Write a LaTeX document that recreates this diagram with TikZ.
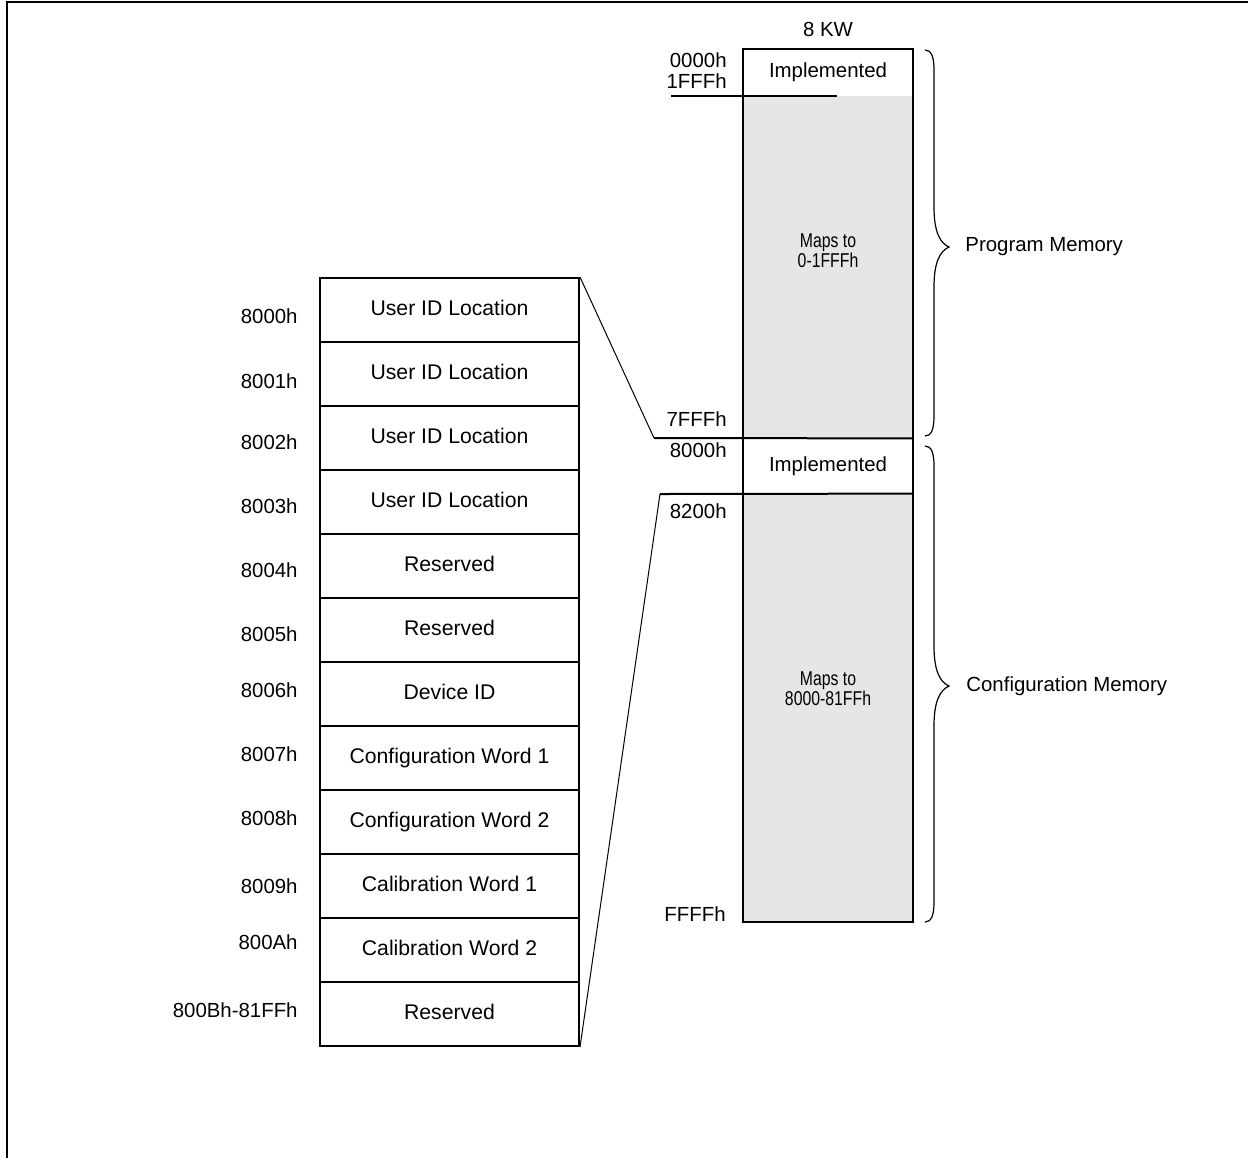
\documentclass[tikz,border=0pt]{standalone}
\usepackage{fontspec}
\setmainfont{Liberation Sans}
\newfontfamily\narrowfont[FakeStretch=0.79]{Liberation Sans}
\definecolor{memgray}{RGB}{230,230,230}
\begin{document}
\begin{tikzpicture}[x=0.5pt,y=-0.5pt,
  every node/.style={font=\fontsize{10.2}{12.2}\selectfont},
  box/.style={draw, line width=1pt},
  cell/.style={box, minimum width=129.5pt, minimum height=32pt, inner sep=0pt, font=\fontsize{10.6}{12.6}\selectfont},
  area/.style={minimum width=85pt, inner sep=0pt},
  addr/.style={inner sep=0pt, anchor=east},
  maptext/.style={inner sep=0pt, align=center, font=\narrowfont\fontsize{10}{10}\selectfont},
  thin/.style={line width=0.5pt},
  bracestyle/.style={line width=0.6pt},
  frame/.style={line width=1.3pt}]
\useasboundingbox (0,0) rectangle (1251,1158);
\draw[frame] (7,1158) -- (7,2) -- (1248,2);

% left table
\foreach \i/\txt/\ad/\ay in {
  1/User ID Location/8000h/316,
  2/User ID Location/8001h/381,
  3/User ID Location/8002h/442,
  4/User ID Location/8003h/506,
  5/Reserved/8004h/570,
  6/Reserved/8005h/634,
  7/Device ID/8006h/690,
  8/Configuration Word 1/8007h/754,
  9/Configuration Word 2/8008h/818,
  10/Calibration Word 1/8009h/886,
  11/Calibration Word 2/800Ah/942,
  12/Reserved/800Bh-81FFh/1010}{
  \node[cell] (r\i) at (449.5, 246+64*\i) {\raisebox{2.5pt}{\txt}};
  \node[addr] (l\i) at (298, \ay) {\ad};
}

% right column
\node[area, minimum height=23.5pt] (impl1) at (828,72.5) {Implemented};
\node[area, fill=memgray, minimum height=171pt] (map1) at (828,267) {};
\node[area, minimum height=28pt] (impl2) at (828,466) {Implemented};
\node[area, fill=memgray, minimum height=214pt] (map2) at (828,708) {};
\draw[box] (impl1.north west) rectangle (map2.south east);
\node[maptext] (m1) at (828,251) {Maps to\\0-1FFFh};
\node[maptext] (m2) at (828,689) {Maps to\\8000-81FFh};
\node[inner sep=0pt] (kw) at (828,29) {8 KW};

\coordinate (a1) at (671,96);
\coordinate (a2) at (837,96);
\coordinate (k1) at (654,438);
\coordinate (k2) at (660,494);
\draw[box] (a1) -- (a2);
\draw[box] (k1) -- (map1.south east);
\draw[box] (k2) -- (map2.north east);
\draw[thin] (r1.north east) -- (k1);
\draw[thin] (r12.south east) -- (k2);

\node[addr] (t0) at (727,60) {0000h};
\node[addr] (t1) at (727,81) {1FFFh};
\node[addr] (t2) at (727,419) {7FFFh};
\node[addr] (t3) at (727,450) {8000h};
\node[addr] (t4) at (727,511) {8200h};
\node[addr] (t5) at (726,914) {FFFFh};

% braces
\draw[bracestyle] (925,50) .. controls (931,50) and (934,56) .. (934,70)
  -- (934,207) .. controls (934,232) and (940,243) .. (949,247)
  .. controls (940,251) and (934,262) .. (934,287)
  -- (934,416) .. controls (934,430) and (931,436) .. (925,436);
\draw[bracestyle] (925,446) .. controls (931,446) and (934,452) .. (934,466)
  -- (934,646) .. controls (934,671) and (940,682) .. (949,686)
  .. controls (940,690) and (934,701) .. (934,726)
  -- (934,902) .. controls (934,916) and (931,922) .. (925,922);
\node[inner sep=0pt, anchor=west] (pm) at (965,247) {Program Memory};
\node[inner sep=0pt, anchor=west] (cm) at (966,686) {Configuration Memory};
\end{tikzpicture}
\end{document}
